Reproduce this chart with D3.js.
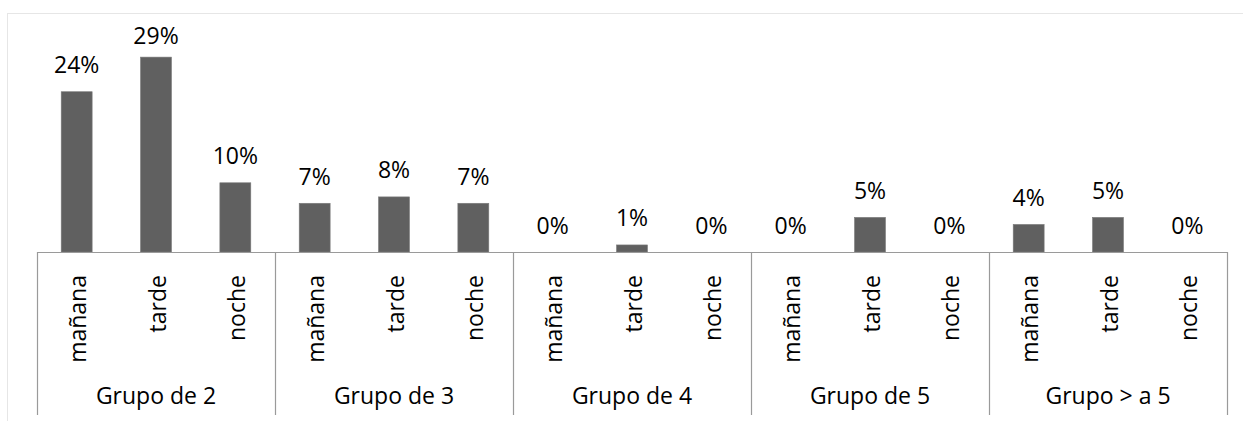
<!DOCTYPE html>
<html>
<head>
<meta charset="utf-8">
<script src="https://cdn.jsdelivr.net/npm/d3@7/dist/d3.min.js"></script>
<style>
  html, body { margin: 0; padding: 0; background: #fff; }
  svg { display: block; }
  text { font-family: "Open Sans", sans-serif; fill: #000; }
</style>
</head>
<body>
<svg id="chart" width="1243" height="421"></svg>
<script>
// Group sizes and time of day
const groups = ["Grupo de 2", "Grupo de 3", "Grupo de 4", "Grupo de 5", "Grupo > a 5"];
const periods = ["mañana", "tarde", "noche"];

// Share per group, in the order mañana, tarde, noche (percent)
const grupo2 = [23.85, 29.0, 10.3];
const grupo3 = [7.25, 8.2, 7.25];
const grupo4 = [0, 1.05, 0];
const grupo5 = [0, 5.15, 0];
const grupoMas5 = [4.1, 5.15, 0];

const seriesByGroup = [grupo2, grupo3, grupo4, grupo5, grupoMas5];

const rows = [];
groups.forEach((g, gi) => {
  periods.forEach((p, pi) => {
    rows.push({ key: gi + "|" + p, group: g, gi, period: p, value: seriesByGroup[gi][pi] / 100 });
  });
});

const svg = d3.select("#chart");
const left = 37, right = 1227, baseY = 252, bottomY = 415;
const fontSize = 23;

// outer chart frame
svg.append("rect")
  .attr("x", 7.5).attr("y", 13.5)
  .attr("width", 1400).attr("height", 600)
  .attr("fill", "none").attr("stroke", "#e6e6e6").attr("stroke-width", 1);

const x = d3.scaleBand()
  .domain(rows.map(d => d.key))
  .range([left, right])
  .paddingInner(0.61)
  .paddingOuter(0.305);

const groupX = d3.scaleBand()
  .domain(groups)
  .range([left, right])
  .padding(0);

const y = d3.scaleLinear().domain([0, 0.35]).range([baseY, baseY - 235.2]);

// bars
svg.append("g").selectAll("rect")
  .data(rows.filter(d => d.value > 0))
  .join("rect")
  .attr("x", d => x(d.key))
  .attr("y", d => y(d.value))
  .attr("width", x.bandwidth())
  .attr("height", d => y(0) - y(d.value))
  .attr("fill", "#606060")
  .attr("stroke", "#7a7a7a")
  .attr("stroke-width", 0.6);

// value labels, kept inside the plot area at the top
const fmt = d3.format(".0%");
svg.append("g").selectAll("text")
  .data(rows)
  .join("text")
  .attr("x", d => x(d.key) + x.bandwidth() / 2)
  .attr("y", d => Math.max(y(d.value) - 18.5, 43.5))
  .attr("text-anchor", "middle")
  .attr("font-size", fontSize)
  .text(d => fmt(d.value));

// category axis: baseline and group dividers
const axis = svg.append("g").attr("stroke", "#9a9a9a").attr("stroke-width", 1.2);
axis.append("line")
  .attr("x1", left).attr("x2", right)
  .attr("y1", baseY + 0.5).attr("y2", baseY + 0.5);
const edges = groups.map(g => groupX(g)).concat([right]);
axis.selectAll("line.div")
  .data(edges)
  .join("line")
  .attr("class", "div")
  .attr("x1", d => Math.round(d) + 0.5).attr("x2", d => Math.round(d) + 0.5)
  .attr("y1", baseY).attr("y2", bottomY);

// rotated period labels
svg.append("g").selectAll("text")
  .data(rows)
  .join("text")
  .attr("transform", d => `translate(${x(d.key) + x.bandwidth() / 2},275) rotate(-90)`)
  .attr("text-anchor", "end")
  .attr("dy", "0.42em")
  .attr("font-size", fontSize)
  .text(d => d.period);

// group labels
svg.append("g").selectAll("text")
  .data(groups)
  .join("text")
  .attr("x", d => groupX(d) + groupX.bandwidth() / 2)
  .attr("y", 404)
  .attr("text-anchor", "middle")
  .attr("font-size", fontSize)
  .text(d => d);
</script>
</body>
</html>
